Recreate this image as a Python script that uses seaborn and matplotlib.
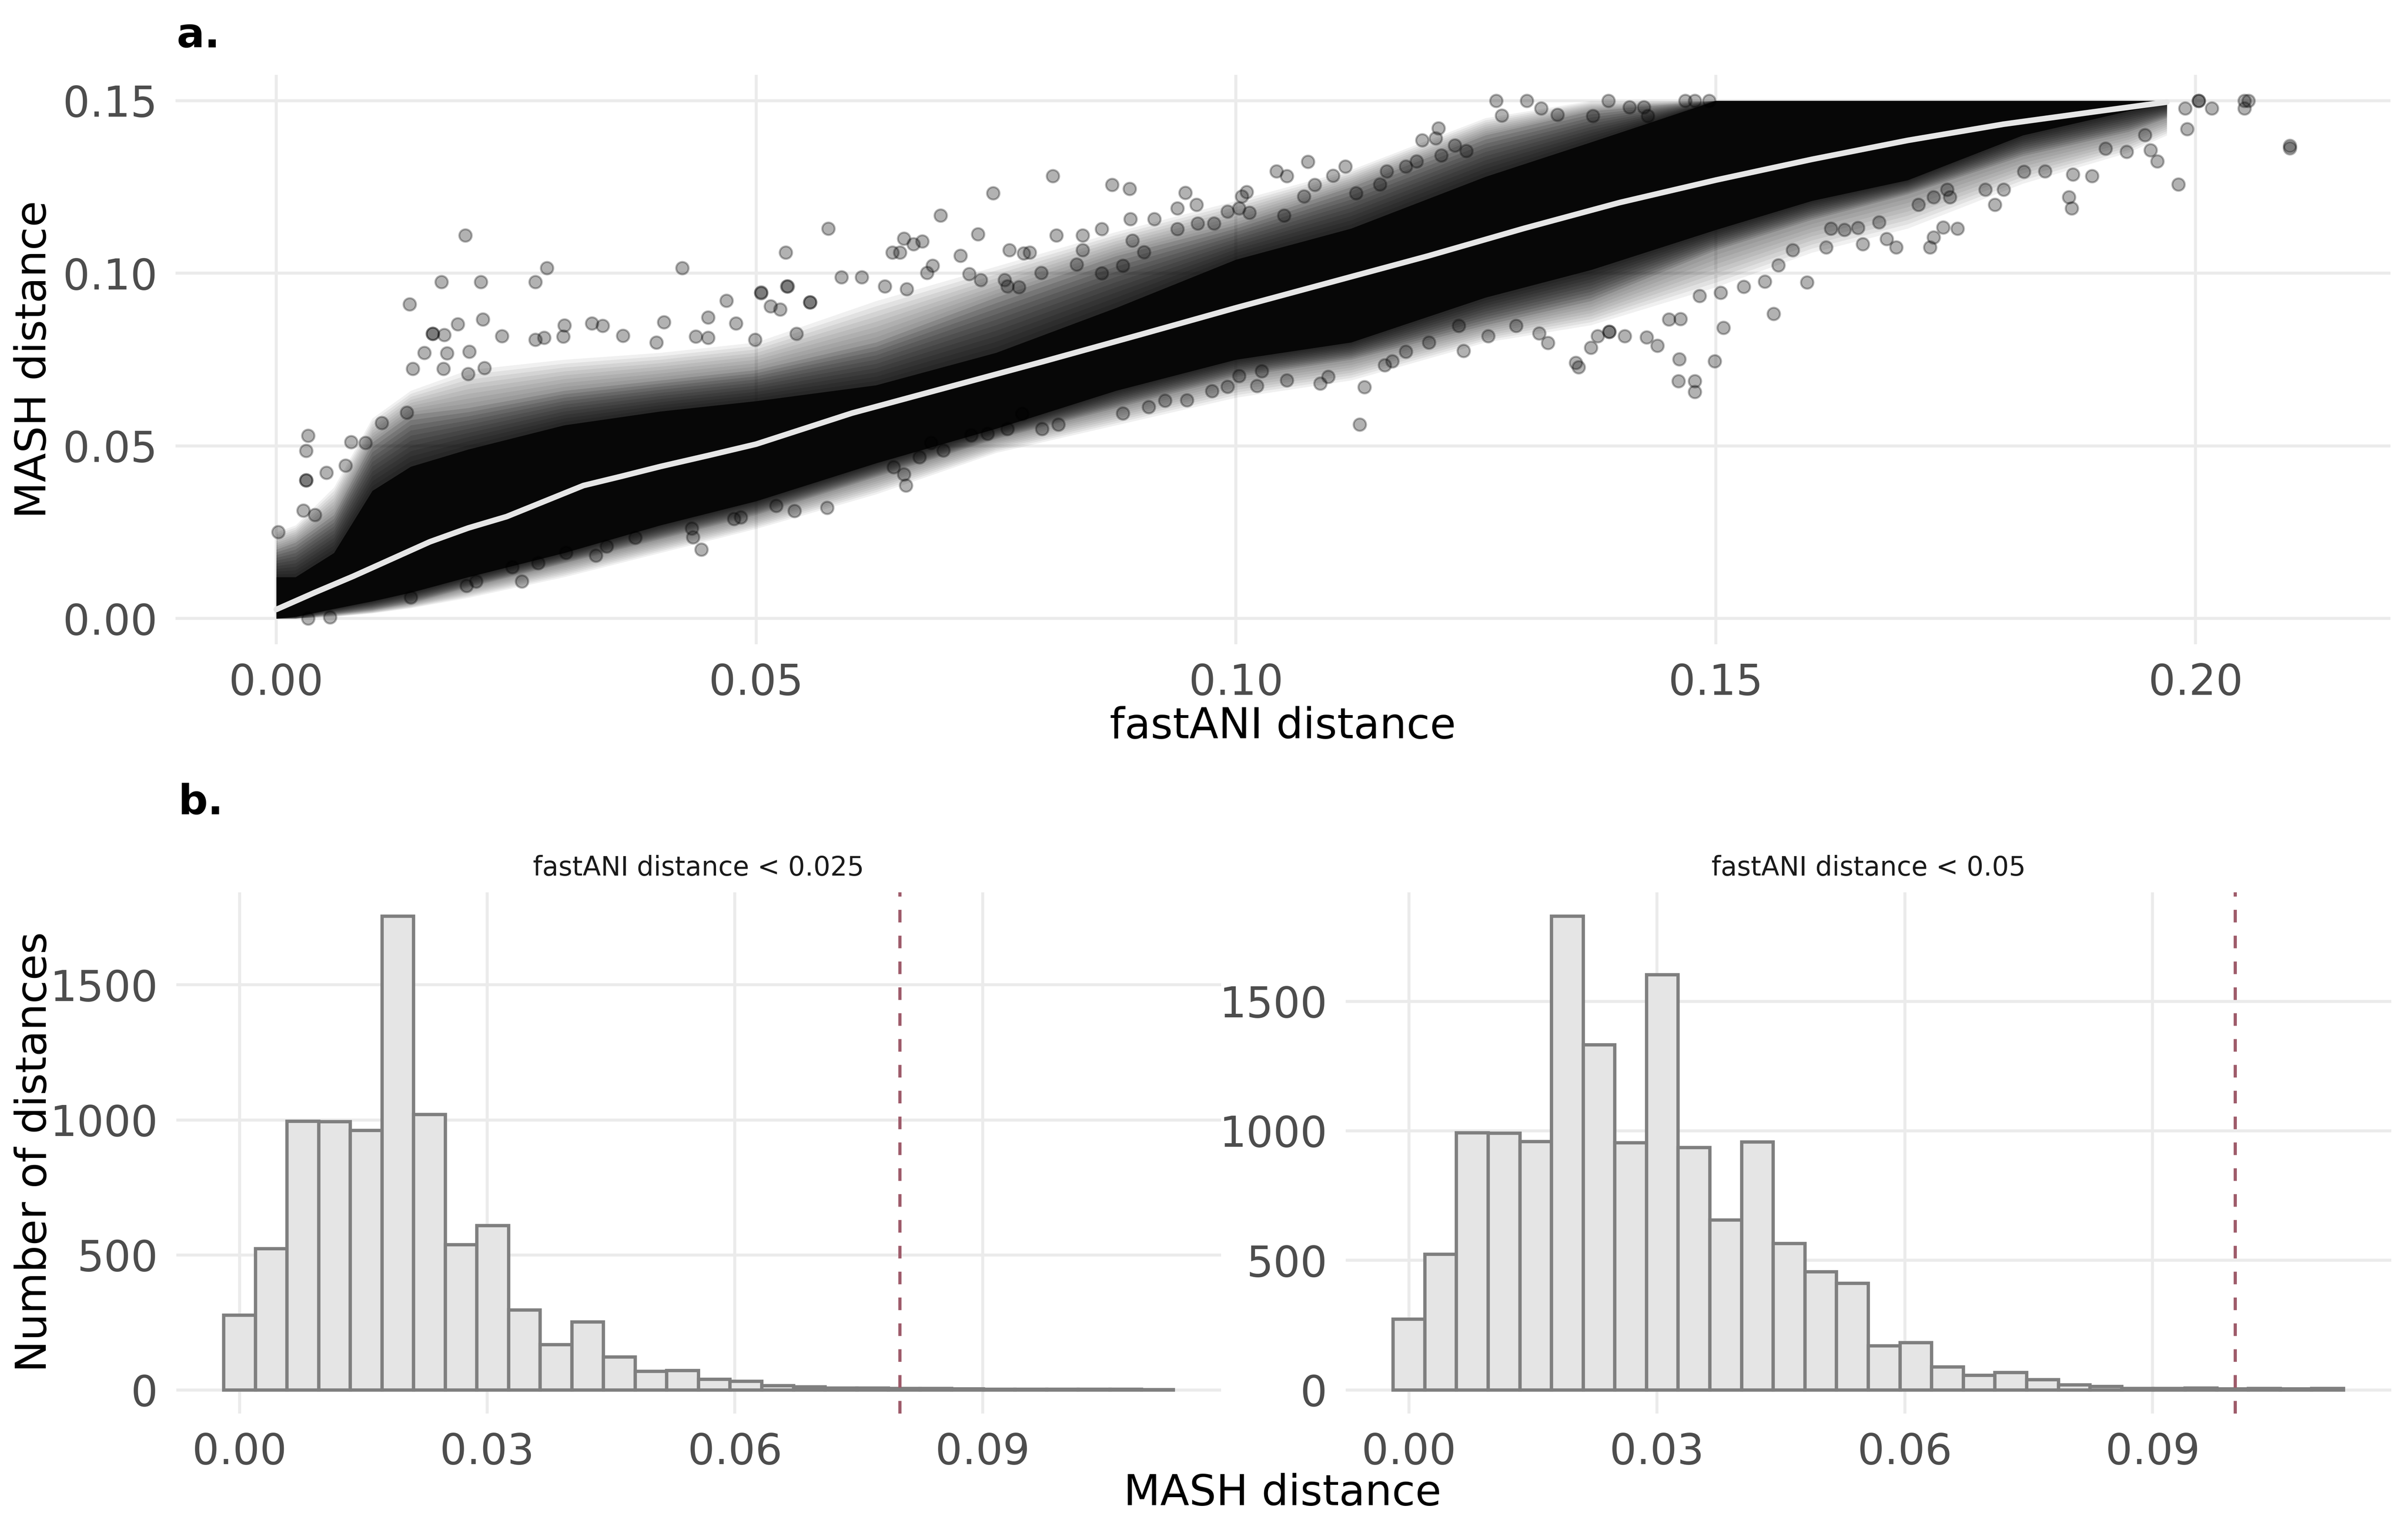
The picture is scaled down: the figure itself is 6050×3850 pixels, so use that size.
import numpy as np
import pandas as pd
import matplotlib
matplotlib.use("Agg")
import matplotlib.pyplot as plt
from matplotlib.ticker import FixedLocator, FormatStrFormatter
import seaborn as sns

# ---------------- DATA ----------------
# Panel a: dense cloud described by envelope bands
band_x   = [0, 0.002, 0.006, 0.010, 0.014, 0.020, 0.030, 0.040, 0.050, 0.0625, 0.075, 0.0875,
            0.100, 0.112, 0.126, 0.137, 0.150, 0.160, 0.170, 0.182, 0.193, 0.197]
core_lo  = [0.0, 0.0005, 0.0028, 0.005, 0.0075, 0.012, 0.019, 0.027, 0.034, 0.045, 0.055, 0.066,
            0.075, 0.080, 0.093, 0.101, 0.1126, 0.121, 0.127, 0.140, 0.147, 0.149]
core_hi  = [0.012, 0.012, 0.019, 0.037, 0.044, 0.049, 0.056, 0.060, 0.063, 0.0676, 0.077, 0.090,
            0.104, 0.113, 0.128, 0.138, 0.150, 0.150, 0.150, 0.150, 0.150, 0.150]
mid_lo   = [0.0, 0.0, 0.0012, 0.0025, 0.0045, 0.009, 0.016, 0.023, 0.030, 0.041, 0.052, 0.061,
            0.070, 0.075, 0.085, 0.092, 0.1067, 0.1155, 0.1229, 0.134, 0.141, 0.145]
mid_hi   = [0.020, 0.022, 0.030, 0.051, 0.059, 0.061, 0.066, 0.069, 0.072, 0.080, 0.093, 0.105,
            0.114, 0.125, 0.140, 0.147, 0.150, 0.150, 0.150, 0.150, 0.150, 0.150]
outer_lo = [0.0, 0.0, 0.0005, 0.0015, 0.003, 0.006, 0.012, 0.019, 0.026, 0.036, 0.048, 0.056,
            0.064, 0.069, 0.080, 0.085, 0.096, 0.106, 0.113, 0.126, 0.135, 0.140]
outer_hi = [0.025, 0.027, 0.038, 0.058, 0.066, 0.072, 0.075, 0.077, 0.080, 0.092, 0.102, 0.112,
            0.121, 0.130, 0.145, 0.150, 0.150, 0.150, 0.150, 0.150, 0.150, 0.150]

# Panel a: individually visible points (fastANI distance, MASH distance)
pts_x = [0.0197, 0.0172, 0.0213, 0.0270, 0.0282, 0.0139, 0.0423, 0.0575, 0.0531, 0.0533, 0.0505, 0.0469,
         0.0450, 0.0404, 0.0515, 0.0525, 0.0556, 0.0189, 0.0215, 0.0163, 0.0163, 0.0175, 0.0300, 0.0329,
         0.0340, 0.0361, 0.0396, 0.0479, 0.0154, 0.0178, 0.0201, 0.0142, 0.0174, 0.0200, 0.0217, 0.0235,
         0.0270, 0.0279, 0.0299, 0.0437, 0.0450, 0.0542, 0.0499, 0.0033, 0.0031, 0.0031, 0.0031, 0.0052,
         0.0028, 0.0040, 0.0002, 0.0078, 0.0093, 0.0072, 0.0110, 0.0136,
         0.0056, 0.0033, 0.0140, 0.0198, 0.0208, 0.0256, 0.0273, 0.0246, 0.0302, 0.0333, 0.0344, 0.0374,
         0.0433, 0.0434, 0.0443, 0.0477, 0.0484, 0.0521, 0.0540, 0.0574,
         0.0642, 0.0650, 0.0654, 0.0664, 0.0673, 0.0692, 0.0713, 0.0731, 0.0747, 0.0764, 0.0779, 0.0785,
         0.0809, 0.0813, 0.0840, 0.0840, 0.0860, 0.0871, 0.0889, 0.0890, 0.0892, 0.0904, 0.0915, 0.0939,
         0.0939, 0.0947, 0.0959, 0.0960, 0.0977, 0.0991, 0.1003, 0.1006, 0.1011, 0.1014, 0.1042, 0.1053,
         0.1050, 0.1075, 0.1071, 0.1082, 0.1101, 0.1114, 0.1125, 0.1150, 0.1157, 0.1177, 0.1188, 0.1194,
         0.1208, 0.1211, 0.1214, 0.1228, 0.1240,
         0.0589, 0.0610, 0.0532, 0.0505, 0.0556, 0.0634, 0.0657, 0.0684, 0.0678, 0.0722, 0.0734, 0.0759,
         0.0762, 0.0774, 0.0797, 0.0834, 0.0860, 0.0882,
         0.0643, 0.0654, 0.0656, 0.0695, 0.0682, 0.0670, 0.0724, 0.0741, 0.0762, 0.0777, 0.0798, 0.0815,
         0.0882, 0.0909, 0.0926, 0.0949, 0.0975, 0.0991, 0.1003, 0.1022, 0.1027, 0.1053, 0.1088, 0.1096,
         0.1129, 0.1134, 0.1155, 0.1163, 0.1237, 0.1201, 0.1177, 0.1232,
         0.1263, 0.1292, 0.1316, 0.1325, 0.1354, 0.1357, 0.1370, 0.1377, 0.1389, 0.1389, 0.1405, 0.1428,
         0.1439, 0.1451, 0.1463, 0.1462, 0.1461, 0.1478, 0.1478, 0.1499, 0.1508, 0.1483, 0.1505, 0.1529,
         0.1551, 0.1560, 0.1595, 0.1565, 0.1580, 0.1615, 0.1620, 0.1634, 0.1648, 0.1653, 0.1670, 0.1678,
         0.1688, 0.1723, 0.1727, 0.1737, 0.1752, 0.1711, 0.1727, 0.1744, 0.1741, 0.1781, 0.1791, 0.1800,
         0.1821, 0.1843, 0.1868, 0.1871, 0.1872, 0.1892, 0.1906, 0.1928, 0.1947, 0.1960, 0.1953, 0.1982,
         0.1991, 0.1989, 0.2017, 0.2051, 0.2051, 0.2055, 0.2003, 0.2003, 0.2098, 0.2098,
         0.1271, 0.1303, 0.1318, 0.1277, 0.1335, 0.1372, 0.1388, 0.1410, 0.1425, 0.1429, 0.1468, 0.1478,
         0.1493]
pts_y = [0.1110, 0.0975, 0.0975, 0.0975, 0.1015, 0.0910, 0.1015, 0.1129, 0.1060, 0.0962, 0.0943, 0.0921,
         0.0872, 0.0858, 0.0905, 0.0895, 0.0916, 0.0853, 0.0867, 0.0825, 0.0825, 0.0821, 0.0849, 0.0855,
         0.0848, 0.0819, 0.0800, 0.0855, 0.0770, 0.0768, 0.0773, 0.0724, 0.0724, 0.0709, 0.0726, 0.0818,
         0.0808, 0.0813, 0.0817, 0.0817, 0.0813, 0.0825, 0.0808, 0.0530, 0.0486, 0.0400, 0.0400, 0.0422,
         0.0313, 0.0300, 0.0251, 0.0511, 0.0509, 0.0443, 0.0567, 0.0597,
         0.0004, 0.0000, 0.0061, 0.0095, 0.0107, 0.0107, 0.0160, 0.0149, 0.0190, 0.0182, 0.0209, 0.0234,
         0.0261, 0.0236, 0.0200, 0.0289, 0.0293, 0.0327, 0.0312, 0.0321,
         0.1060, 0.1060, 0.1101, 0.1084, 0.1093, 0.1168, 0.1051, 0.1113, 0.1232, 0.1067, 0.1058, 0.1060,
         0.1282, 0.1110, 0.1110, 0.1067, 0.1128, 0.1257, 0.1245, 0.1157, 0.1095, 0.1062, 0.1157, 0.1128,
         0.1188, 0.1233, 0.1199, 0.1144, 0.1144, 0.1179, 0.1188, 0.1223, 0.1236, 0.1176, 0.1296, 0.1282,
         0.1168, 0.1323, 0.1223, 0.1257, 0.1283, 0.1310, 0.1232, 0.1258, 0.1296, 0.1310, 0.1325, 0.1386,
         0.1391, 0.1420, 0.1342, 0.1371, 0.1355,
         0.0989, 0.0989, 0.0962, 0.0945, 0.0916, 0.0962, 0.0954, 0.1022, 0.1002, 0.0998, 0.0981, 0.0981,
         0.0962, 0.0960, 0.1001, 0.1026, 0.1000, 0.1022,
         0.0438, 0.0418, 0.0385, 0.0487, 0.0509, 0.0467, 0.0531, 0.0535, 0.0549, 0.0593, 0.0549, 0.0562,
         0.0594, 0.0613, 0.0631, 0.0632, 0.0659, 0.0672, 0.0703, 0.0674, 0.0716, 0.0690, 0.0681, 0.0700,
         0.0562, 0.0670, 0.0734, 0.0745, 0.0775, 0.0800, 0.0773, 0.0848,
         0.0818, 0.0848, 0.0826, 0.0798, 0.0741, 0.0728, 0.0785, 0.0818, 0.0831, 0.0831, 0.0818, 0.0815,
         0.0790, 0.0866, 0.0868, 0.0751, 0.0688, 0.0688, 0.0657, 0.0745, 0.0842, 0.0935, 0.0944, 0.0961,
         0.0976, 0.0883, 0.0974, 0.1023, 0.1067, 0.1075, 0.1130, 0.1126, 0.1132, 0.1084, 0.1148, 0.1100,
         0.1075, 0.1075, 0.1104, 0.1133, 0.1130, 0.1199, 0.1221, 0.1221, 0.1243, 0.1243, 0.1199, 0.1243,
         0.1295, 0.1296, 0.1221, 0.1188, 0.1287, 0.1282, 0.1361, 0.1352, 0.1401, 0.1324, 0.1357, 0.1258,
         0.1418, 0.1478, 0.1478, 0.1478, 0.1500, 0.1500, 0.1500, 0.1500, 0.1363, 0.1370,
         0.1500, 0.1500, 0.1478, 0.1457, 0.1460, 0.1456, 0.1500, 0.1481, 0.1481, 0.1456, 0.1500, 0.1500,
         0.1500]

# Panel a: loess smooth line
smooth_x = [0, 0.004, 0.008, 0.012, 0.016, 0.020, 0.024, 0.028, 0.032, 0.036, 0.040, 0.045, 0.050,
            0.060, 0.070, 0.080, 0.090, 0.100, 0.110, 0.120, 0.130, 0.140, 0.150, 0.160, 0.170,
            0.180, 0.190, 0.197]
smooth_y = [0.0026, 0.0075, 0.0122, 0.0172, 0.0222, 0.0262, 0.0295, 0.0340, 0.0385, 0.0412, 0.0440,
            0.0472, 0.0505, 0.0595, 0.0670, 0.0745, 0.0822, 0.0900, 0.0975, 0.1050, 0.1130, 0.1205,
            0.1270, 0.1330, 0.1385, 0.1432, 0.1470, 0.1496]

# Panel b: histogram of MASH distances (30 bins)
bin_width = 0.003834
counts_025 = [276, 523, 995, 993, 961, 1755, 1020, 538, 608, 296, 168, 251, 122, 68, 72,
              39, 32, 16, 11, 7, 7, 5, 5, 4, 3, 3, 2, 2, 2, 1]
counts_05 = [273, 524, 993, 991, 959, 1829, 1332, 954, 1603, 935, 656, 957, 565, 456, 411,
             170, 183, 88, 56, 67, 39, 19, 13, 6, 6, 7, 4, 5, 4, 5]
cutoffs = [0.08, 0.10]
strip_titles = ["fastANI distance < 0.025", "fastANI distance < 0.05"]

# ---------------- STYLE ----------------
sns.set_theme(style="white")
plt.rcParams['font.family'] = ['DejaVu Sans']
plt.rcParams['text.color'] = 'black'

GRID = '#EBEBEB'
TICKC = '#4D4D4D'
TICKFS = 12.8
TITLEFS = 12.8

W, H, DPI = 6050, 3850, 600
fig = plt.figure(figsize=(W / DPI, H / DPI), dpi=DPI)
fig.patch.set_facecolor('white')

def style_axes(ax):
    for s in ax.spines.values():
        s.set_visible(False)
    ax.set_facecolor('white')
    ax.grid(True, color=GRID, linewidth=0.9)
    ax.set_axisbelow(True)
    ax.tick_params(length=0, labelsize=TICKFS, labelcolor=TICKC, pad=5.5)
    ax.set_xlabel('')
    ax.set_ylabel('')

# ---------------- PANEL a ----------------
ax_a = fig.add_axes([0.0729, 0.5797, 0.9198, 0.3715])
bx = np.array(band_x)
o_lo, o_hi = np.array(outer_lo), np.array(outer_hi)
m_lo, m_hi = np.array(mid_lo), np.array(mid_hi)
c_lo, c_hi = np.array(core_lo), np.array(core_hi)
# soft-edged density bands (graded layers between envelope levels)
for t in np.linspace(0, 1, 9)[:-1]:
    ax_a.fill_between(bx, o_lo + t * (m_lo - o_lo), o_hi + t * (m_hi - o_hi),
                      color='black', alpha=0.06, linewidth=0, zorder=2)
for t in np.linspace(0, 1, 11)[:-1]:
    ax_a.fill_between(bx, m_lo + t * (c_lo - m_lo), m_hi + t * (c_hi - m_hi),
                      color='black', alpha=0.12, linewidth=0, zorder=2)
ax_a.fill_between(bx, c_lo, c_hi, color='black', alpha=0.8, linewidth=0, zorder=2)

pts = pd.DataFrame({'fastANI': pts_x, 'MASH': pts_y})
sns.scatterplot(data=pts, x='fastANI', y='MASH', ax=ax_a, color='black', alpha=0.3,
                s=14, edgecolor='black', linewidth=0.6, zorder=3)

sm = pd.DataFrame({'fastANI': smooth_x, 'MASH': smooth_y})
sns.lineplot(data=sm, x='fastANI', y='MASH', ax=ax_a, color='#E6E6E6', linewidth=1.7,
             sort=True, estimator=None, zorder=4)

ax_a.set_xlim(-0.0105, 0.2203)
ax_a.set_ylim(-0.0075, 0.1575)
ax_a.xaxis.set_major_locator(FixedLocator([0, 0.05, 0.10, 0.15, 0.20]))
ax_a.yaxis.set_major_locator(FixedLocator([0, 0.05, 0.10, 0.15]))
ax_a.xaxis.set_major_formatter(FormatStrFormatter('%.2f'))
ax_a.yaxis.set_major_formatter(FormatStrFormatter('%.2f'))
style_axes(ax_a)

# ---------------- PANEL b ----------------
nb = len(counts_025)
centers = bin_width * np.arange(nb)
brange = (-bin_width / 2, bin_width * (nb - 0.5))

ax_b1 = fig.add_axes([0.0732, 0.0779, 0.4339, 0.3400])
ax_b2 = fig.add_axes([0.5588, 0.0779, 0.4343, 0.3400])

for ax, counts, cut, title in zip([ax_b1, ax_b2], [counts_025, counts_05], cutoffs, strip_titles):
    df = pd.DataFrame({'MASH': centers, 'n': np.asarray(counts, dtype=float)})
    sns.histplot(data=df, x='MASH', weights='n', bins=nb, binrange=brange, ax=ax,
                 color='#E5E5E5', edgecolor='#7F7F7F', linewidth=1.0, alpha=1, zorder=2)
    ax.axvline(cut, color='#9E5B6A', linewidth=0.95, linestyle=(0, (4, 4.2)), zorder=3)
    ax.set_xlim(-0.00767, 0.1189)
    ymax = max(counts)
    ax.set_ylim(-0.05 * ymax, 1.05 * ymax)
    ax.xaxis.set_major_locator(FixedLocator([0, 0.03, 0.06, 0.09]))
    ax.xaxis.set_major_formatter(FormatStrFormatter('%.2f'))
    ax.yaxis.set_major_locator(FixedLocator([0, 500, 1000, 1500]))
    ax.yaxis.set_major_formatter(FormatStrFormatter('%d'))
    style_axes(ax)
    ax.text(0.5, 1.0 + (2241 - 2180) / 1309, title, transform=ax.transAxes, ha='center',
            va='center', fontsize=8, color='#1A1A1A')

# ---------------- TEXT ----------------
fig.text(444 / W, 1 - 91 / H, 'a.', fontsize=12.5, fontweight='bold', ha='left', va='center',
         color='black')
fig.text(447 / W, 1 - 2017 / H, 'b.', fontsize=12.5, fontweight='bold', ha='left', va='center',
         color='black')
fig.text(3223 / W, 1 - 1824 / H, 'fastANI distance', fontsize=TITLEFS, ha='center', va='center',
         color='black')
fig.text(86 / W, 1 - 903 / H, 'MASH distance', fontsize=TITLEFS, ha='center', va='center',
         rotation=90, color='black')
fig.text(87 / W, 1 - 2893 / H, 'Number of distances', fontsize=TITLEFS, ha='center', va='center',
         rotation=90, color='black')
fig.text(3222 / W, 1 - 3750 / H, 'MASH distance', fontsize=TITLEFS, ha='center', va='center',
         color='black')

fig.savefig('out.png', dpi=DPI, facecolor='white')
